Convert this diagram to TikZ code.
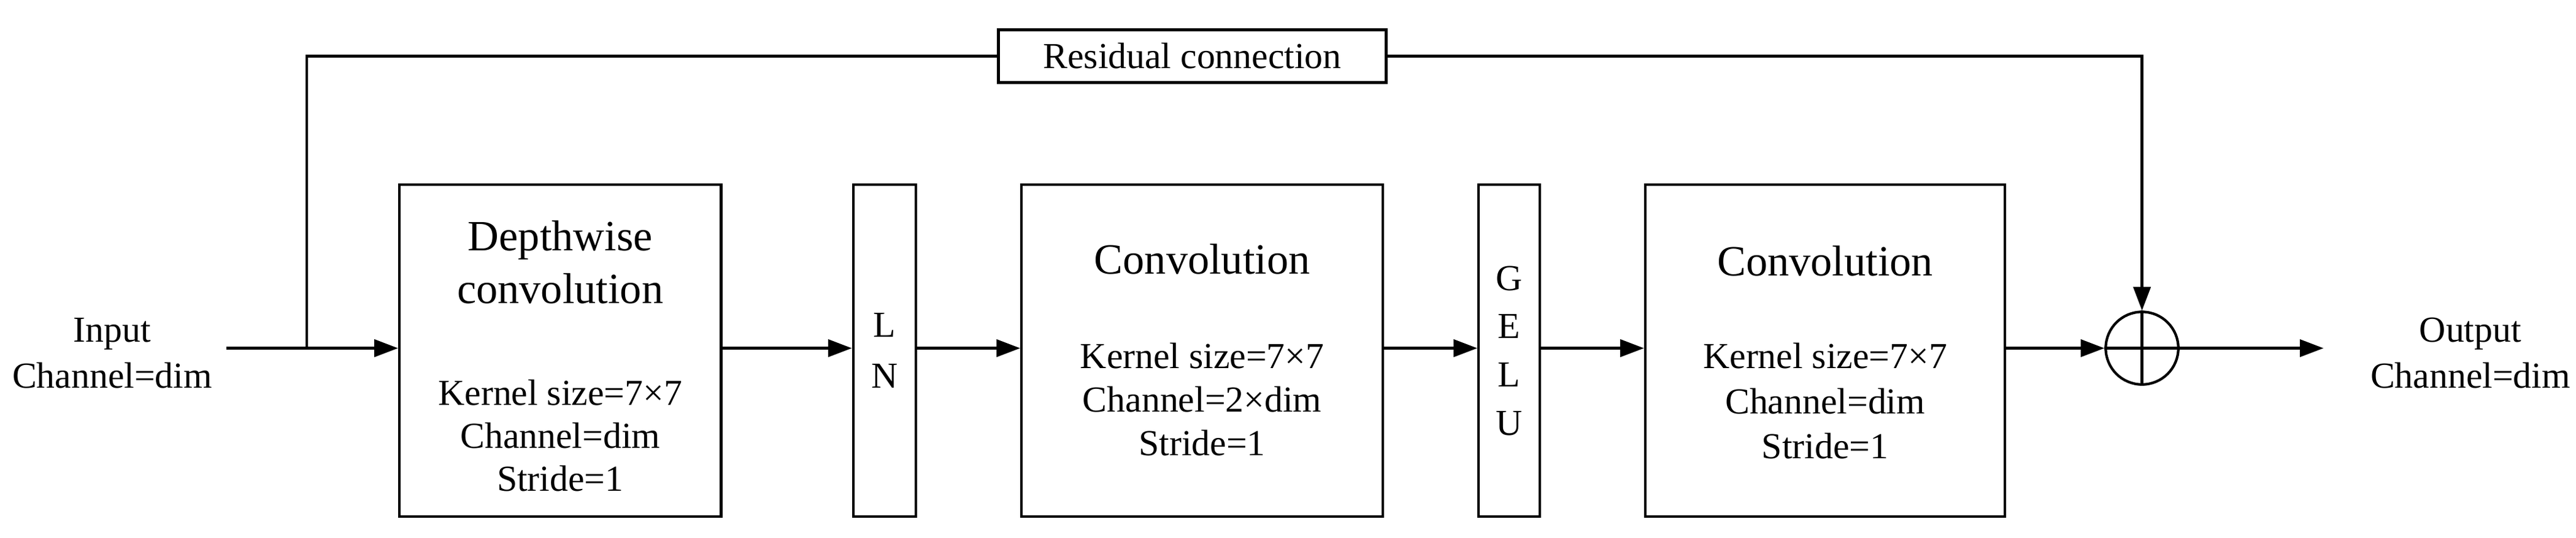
\documentclass[tikz,border=0pt]{standalone}
\usepackage{fontspec}
\setmainfont{Liberation Serif}
\usetikzlibrary{arrows.meta}
\begin{document}
\begin{tikzpicture}[x=0.0269cm,y=-0.0269cm,
  box/.style={draw,line width=1.2pt,inner sep=0pt},
  txt/.style={font=\fontsize{17}{20}\selectfont,align=center},
  arr/.style={line width=1.2pt,-{Triangle[length=11pt,width=8pt]}},
  ln/.style={line width=1.2pt}]
\useasboundingbox (0,0) rectangle (1561,326);
\node[txt,font=\fontsize{17}{21.5}\selectfont] (in) at (68,214) {Input\\Channel=dim};
\node[txt,font=\fontsize{17}{21.5}\selectfont] (out) at (1497,214) {Output\\Channel=dim};
\coordinate (s) at (137,211);
\coordinate (br) at (186,211);
\node[box,minimum width=195*0.0269cm,minimum height=201*0.0269cm] (b1) at (339.5,212.5) {};
\node[txt,font=\fontsize{20}{24.5}\selectfont] at (339.5,159) {Depthwise\\convolution};
\node[txt,font=\fontsize{17}{20}\selectfont] at (339.5,264) {Kernel size=7×7\\Channel=dim\\Stride=1};
\node[box,minimum width=38*0.0269cm,minimum height=201*0.0269cm] (ln) at (536,212.5) {};
\node[txt,font=\fontsize{17}{23.7}\selectfont] at (536,212.5) {L\\N};
\node[box,minimum width=219*0.0269cm,minimum height=201*0.0269cm] (b2) at (728.5,212.5) {};
\node[txt,font=\fontsize{20}{24}\selectfont] at (728.5,157) {Convolution};
\node[txt,font=\fontsize{17}{20.3}\selectfont] at (728.5,242) {Kernel size=7×7\\Channel=2×dim\\Stride=1};
\node[box,minimum width=37*0.0269cm,minimum height=201*0.0269cm] (ge) at (914.5,212.5) {};
\node[txt,font=\fontsize{17}{22.4}\selectfont] at (914.5,212.5) {G\\E\\L\\U};
\node[box,minimum width=218*0.0269cm,minimum height=201*0.0269cm] (b3) at (1106,212.5) {};
\node[txt,font=\fontsize{20}{24}\selectfont] at (1106,158) {Convolution};
\node[txt,font=\fontsize{17}{21}\selectfont] at (1106,243) {Kernel size=7×7\\Channel=dim\\Stride=1};
\node[box,circle,minimum size=44*0.0269cm] (add) at (1298,211) {};
\draw[ln] (add.north)--(add.south) (add.west)--(add.east);
\node[box,minimum width=235*0.0269cm,minimum height=32*0.0269cm,txt] (res) at (722.5,34) {Residual connection};
\draw[arr] (s) -- (b1.west |- s);
\draw[arr] (b1.east |- s) -- (ln.west |- s);
\draw[arr] (ln.east |- s) -- (b2.west |- s);
\draw[arr] (b2.east |- s) -- (ge.west |- s);
\draw[arr] (ge.east |- s) -- (b3.west |- s);
\draw[arr] (b3.east |- s) -- (add.west);
\coordinate (oe) at (1408,211);
\draw[arr] (add.east) -- (oe);
\draw[ln] (br) |- (res.west);
\draw[arr] (res.east) -| (add.north);
\end{tikzpicture}
\end{document}
